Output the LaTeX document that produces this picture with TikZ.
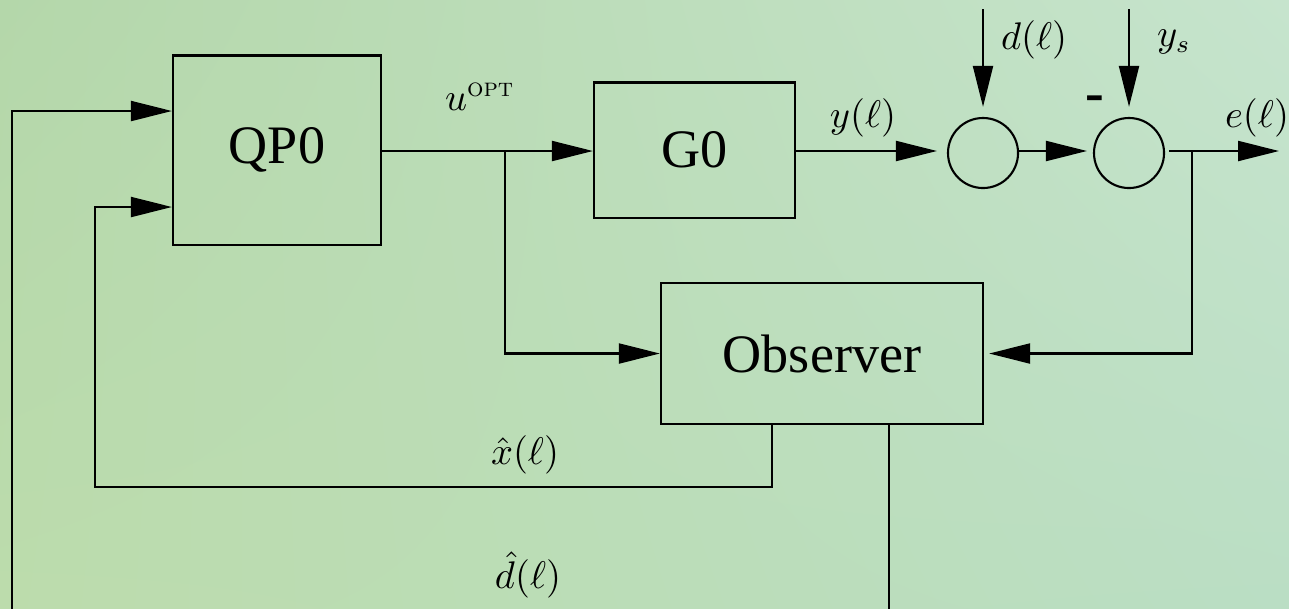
\documentclass[tikz,border=0pt]{standalone}
\usepackage{amsmath}
\usepackage{fontspec}
\newfontfamily\timesf{Liberation Serif}
\usetikzlibrary{arrows.meta,calc,shadings}
\definecolor{bgA}{RGB}{180,215,170}
\definecolor{bgB}{RGB}{198,228,205}
\definecolor{bgC}{RGB}{188,220,172}
\definecolor{bgD}{RGB}{186,222,196}
\tikzset{
  blk/.style={draw, line width=0.6pt, inner sep=0pt, font=\timesf\fontsize{15.4}{18}\selectfont},
  sumc/.style={draw, circle, line width=0.6pt, minimum size=0.7cm, inner sep=0pt},
  arr/.style={line width=0.6pt, -{Triangle[length=0.41cm, width=0.2cm]}},
  lbl/.style={inner sep=0pt, font=\fontsize{10.5}{13}\selectfont}
}
\begin{document}
\begin{tikzpicture}[x=0.01cm, y=-0.01cm]
\useasboundingbox (0,0) rectangle (1289,608);
\clip (0,0) rectangle (1289,608);
\shade[upper left=bgA, upper right=bgB, lower left=bgC, lower right=bgD] (0,0) rectangle (1289,608);

% blocks
\node[blk, minimum width=2.08cm, minimum height=1.89cm] (qp) at (277,150) {QP0};
\node[blk, minimum width=2.01cm, minimum height=1.35cm] (g0) at (694.5,150) {G0};
\node[blk, minimum width=3.22cm, minimum height=1.41cm] (obs) at (822,353.5) {Observer};
\node[sumc] (c1) at (983,153) {};
\node[sumc] (c2) at (1129,153) {};

% coordinates
\coordinate (j1) at (505,151);
\coordinate (j2) at (1192,151);
\coordinate (eout) at (1279,151);
\coordinate (din) at (983,9);
\coordinate (ysin) at (1129,9);
\coordinate (ox) at (772,424);
\coordinate (od) at (889,424);
\coordinate (bl) at (12,660);
\coordinate (xl) at (95,487);

% forward path
\draw[arr] (qp.east |- j1) -- (g0.west |- j1);
\draw[arr] (j1) |- (obs.west);
\draw[arr, shorten >=0.1cm] (g0.east |- j1) -- (c1.west |- j1);
\draw[arr, shorten >=0.06cm] (c1.east |- j1) -- (c2.west |- j1);
\draw[arr, shorten <=0.04cm] (c2.east |- j1) -- (eout);
\draw[arr, shorten >=0.05cm] (j2) |- (obs.east);
\draw[arr, shorten >=0.1cm] (din) -- (c1.north);
\draw[arr, shorten >=0.1cm] (ysin) -- (c2.north);

% feedback
\draw[arr] (ox) |- (xl) |- (qp.west |- 0,207);
\draw[arr] (od) |- (bl) |- (qp.west |- 0,111);

% labels
\node[lbl] (lu) at (480,97) {$u^{\text{\scshape opt}}$};
\node[lbl] (ly) at (863,118) {$y(\ell)$};
\node[lbl] (ld) at (1034,40) {$d(\ell)$};
\node[lbl] (lys) at (1174,42) {$y_s$};
\node[lbl] (le) at (1257,118) {$e(\ell)$};
\node[inner sep=0pt, font=\timesf\bfseries\fontsize{16}{18}\selectfont] (minus) at (1095,104) {-};
\node[lbl] (lx) at (525,455) {$\hat{x}(\ell)$};
\node[lbl] (ldh) at (528,575) {$\hat{d}(\ell)$};
\end{tikzpicture}
\end{document}
